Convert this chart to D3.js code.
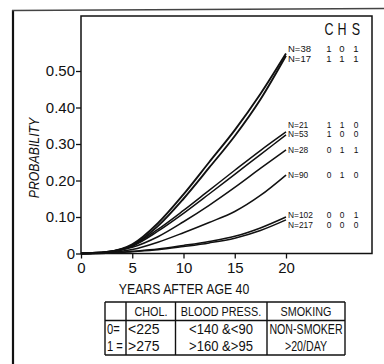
<!DOCTYPE html>
<html>
<head>
<meta charset="utf-8">
<script src="https://cdn.jsdelivr.net/npm/d3@7"></script>
<style>
  body { margin: 0; background: #fff; }
  svg { display: block; }
  text { fill: #111; }
</style>
</head>
<body>
<svg id="chart" width="384" height="364"></svg>
<script>
// years after age 40
const years = [0, 2.5, 5, 7.5, 10, 12.5, 15, 17.5, 20];

// group labels and their C / H / S codes
const groups = ["N=38", "N=17", "N=21", "N=53", "N=28", "N=90", "N=102", "N=217"];
const chol  = [1, 1, 1, 1, 0, 0, 0, 0];
const bp    = [0, 1, 1, 0, 1, 1, 0, 0];
const smoke = [1, 1, 0, 0, 1, 0, 1, 0];

// probability read at each year, one array per group
const p38  = [0, 0.004, 0.022, 0.075, 0.15, 0.235, 0.322, 0.422, 0.542];
const p17  = [0, 0.004, 0.025, 0.083, 0.162, 0.25, 0.338, 0.437, 0.548];
const p21  = [0, 0.004, 0.022, 0.066, 0.118, 0.173, 0.228, 0.282, 0.333];
const p53  = [0, 0.003, 0.02, 0.061, 0.11, 0.163, 0.217, 0.271, 0.325];
const p28  = [0, 0.003, 0.017, 0.046, 0.087, 0.132, 0.181, 0.233, 0.284];
const p90  = [0, 0.002, 0.011, 0.031, 0.057, 0.085, 0.115, 0.159, 0.215];
const p102 = [0, 0.001, 0.006, 0.012, 0.022, 0.033, 0.047, 0.07, 0.1];
const p217 = [0, 0.001, 0.005, 0.01, 0.019, 0.029, 0.042, 0.063, 0.092];
const series = [p38, p17, p21, p53, p28, p90, p102, p217];

// where each label sits on the probability scale
const labelP = [0.56, 0.532, 0.351, 0.327, 0.284, 0.216, 0.105, 0.077];

const xTicks = [0, 5, 10, 15, 20];
const yTicks = [0, 0.1, 0.2, 0.3, 0.4, 0.5];

// key table
const tableHead = ["CHOL.", "BLOOD PRESS.", "SMOKING"];
const tableZero = ["<225", "<140 &<90", "NON-SMOKER"];
const tableOne  = [">275", ">160 &>95", ">20/DAY"];

const svg = d3.select("#chart");
const font = "'Liberation Sans', Arial, sans-serif";

// lettering is condensed: draw text squeezed horizontally
function label(parent, tx, ty, str, size, anchor, sx, extra) {
  const g = parent.append("g").attr("transform", `translate(${tx},${ty})${extra || ""}`);
  return g.append("text")
    .attr("transform", `scale(${sx},1)`)
    .attr("text-anchor", anchor)
    .attr("font-family", font)
    .attr("font-size", size)
    .text(str);
}

const x = d3.scaleLinear().domain([0, 20]).range([81, 286]);
const y = d3.scaleLinear().domain([0, 0.5]).range([253.5, 71]);

// outer page frame
svg.append("line").attr("x1", 13).attr("y1", 10).attr("x2", 13).attr("y2", 364)
  .attr("stroke", "#111").attr("stroke-width", 2.2);
svg.append("line").attr("x1", 12).attr("y1", 10.5).attr("x2", 384).attr("y2", 8.5)
  .attr("stroke", "#444").attr("stroke-width", 1.4);

// plot frame
svg.append("rect").attr("x", 81).attr("y", 16).attr("width", 291).attr("height", 237.5)
  .attr("fill", "none").attr("stroke", "#111").attr("stroke-width", 1.5);

// y axis
const gy = svg.append("g").attr("transform", "translate(81,0)")
  .call(d3.axisLeft(y).tickValues(yTicks).tickSize(5).tickPadding(1)
    .tickFormat(d => d === 0 ? "0" : d3.format(".2f")(d)));
gy.select(".domain").remove();
gy.selectAll("line").attr("stroke", "#111").attr("stroke-width", 1.3);
gy.selectAll("text").attr("font-family", font).attr("font-size", 15).attr("fill", "#111");

// x axis
const gx = svg.append("g").attr("transform", "translate(0,253.5)")
  .call(d3.axisBottom(x).tickValues(xTicks).tickSize(5).tickPadding(4));
gx.select(".domain").remove();
gx.selectAll("line").attr("stroke", "#111").attr("stroke-width", 1.3);
gx.selectAll("text").attr("font-family", font).attr("font-size", 15).attr("fill", "#111");

// axis titles
label(svg, 184, 294, "YEARS AFTER AGE 40", 15, "middle", 0.82);
label(svg, 39, 158, "PROBABILITY", 15, "middle", 0.82, " rotate(-90)")
  .attr("font-style", "italic");

// curves
const line = d3.line()
  .x((d, i) => x(years[i]))
  .y(d => y(d))
  .curve(d3.curveMonotoneX);

svg.append("g").selectAll("path").data(series).join("path")
  .attr("d", line)
  .attr("fill", "none")
  .attr("stroke", "#111")
  .attr("stroke-width", (d, i) => i < 2 ? 1.9 : 1.5);

// legend header
const cols = [329, 342, 356];
["C", "H", "S"].forEach((c, i) => label(svg, cols[i], 35, c, 16, "middle", 0.78));

// group labels and codes
groups.forEach((g, i) => {
  const yy = y(labelP[i]) + 3;
  const size = i < 2 ? 9.5 : 8.4;
  label(svg, 288, yy, g, size, "start", 1);
  [chol[i], bp[i], smoke[i]].forEach((v, j) => label(svg, cols[j], yy, v, size, "middle", 1));
});

// key table
const colEdges = [105, 126, 175.5, 267, 345];
const rowEdges = [302, 320.5, 355];
const tb = svg.append("g").attr("stroke", "#111").attr("stroke-width", 1.4);
tb.selectAll("line.v").data(colEdges).join("line").attr("class", "v")
  .attr("x1", d => d).attr("x2", d => d).attr("y1", rowEdges[0]).attr("y2", rowEdges[2]);
tb.selectAll("line.h").data(rowEdges).join("line").attr("class", "h")
  .attr("x1", colEdges[0]).attr("x2", colEdges[4]).attr("y1", d => d).attr("y2", d => d);

const centers = [151, 221, 306];
tableHead.forEach((t, i) => label(svg, centers[i], 316, t, 13.5, "middle", 0.8));

const bodyScale = [1, 0.9, 0.76];
const bodySize = [14, 14.5, 14];
[["0=", tableZero, 334], ["1 =", tableOne, 351]].forEach(([code, vals, yy]) => {
  label(svg, 107, yy, code, 14, "start", 0.8);
  vals.forEach((t, i) => {
    if (i === 0) label(svg, 128, yy, t, bodySize[i], "start", bodyScale[i]);
    else label(svg, centers[i], yy, t, bodySize[i], "middle", bodyScale[i]);
  });
});
</script>
</body>
</html>
